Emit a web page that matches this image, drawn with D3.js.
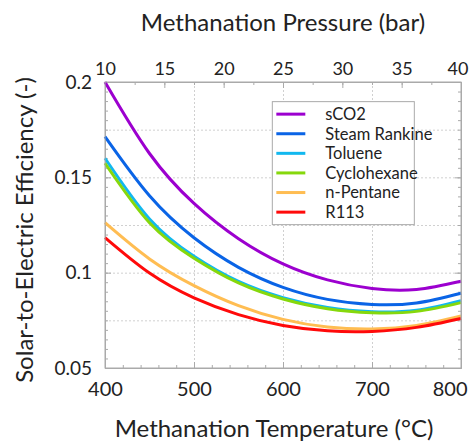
<!DOCTYPE html>
<html>
<head>
<meta charset="utf-8">
<script src="https://cdn.jsdelivr.net/npm/d3@7"></script>
<style>
body { margin: 0; background: #fff; }
svg text { font-family: Lato, "Open Sans", sans-serif; fill: #222; }
.domain { stroke: #aaa; }
.tick line { stroke: #aaa; }
.grid line { stroke: #d0d0d0; stroke-dasharray: 2,2; }
.grid .domain { display: none; }
</style>
</head>
<body>
<div class="chart"></div>
<script>
var width = 470;
var height = 441;
var margin = {top: 82, right: 9, bottom: 73, left: 105};

// temperatures (°C)
var temps = [400, 450, 500, 550, 600, 650, 700, 750, 800];
var seriesNames = ["sCO2", "Steam Rankine", "Toluene", "Cyclohexane", "n-Pentane", "R113"];
var seriesColors = ["#9c00cf", "#0a64e6", "#12b8ef", "#86d80c", "#ffbd52", "#ff0a0a"];

var sCO2 = [0.2000, 0.1625, 0.1363, 0.1178, 0.1046, 0.0962, 0.0917, 0.0912, 0.0955];
var steamRankine = [0.1713, 0.1403, 0.1183, 0.1028, 0.0923, 0.0860, 0.0833, 0.0841, 0.0892];
var toluene = [0.1600, 0.1282, 0.1086, 0.0954, 0.0869, 0.0817, 0.0795, 0.0803, 0.0853];
var cyclohexane = [0.1574, 0.1262, 0.1076, 0.0946, 0.0862, 0.0811, 0.0790, 0.0797, 0.0843];
var nPentane = [0.1262, 0.1072, 0.0932, 0.0827, 0.0755, 0.0715, 0.0705, 0.0723, 0.0773];
var r113 = [0.1184, 0.0998, 0.0868, 0.0780, 0.0723, 0.0695, 0.0692, 0.0713, 0.0760];

var tempTicks = [400, 500, 600, 700, 800];
var pressureTicks = [10, 15, 20, 25, 30, 35, 40];
var effTicks = [0.05, 0.1, 0.15, 0.2];

var allSeries = [sCO2, steamRankine, toluene, cyclohexane, nPentane, r113];

var svg = d3.select(".chart").append("svg")
    .attr("width", width).attr("height", height);

var w = width - margin.left - margin.right;
var h = height - margin.top - margin.bottom;

var x = d3.scaleLinear().domain([400, 800]).range([0, w]);
var xp = d3.scaleLinear().domain([10, 40]).range([0, w]);
var y = d3.scaleLinear().domain([0.05, 0.2]).range([h, 0]);

var g = svg.append("g").attr("transform", "translate(" + margin.left + "," + margin.top + ")");

// grid lines
g.append("g").attr("class", "grid")
    .attr("transform", "translate(0," + h + ")")
    .call(d3.axisBottom(x).tickValues([500, 600, 700]).tickSize(-h).tickFormat(""));
g.append("g").attr("class", "grid")
    .call(d3.axisLeft(y).tickValues([0.075, 0.1, 0.125, 0.15, 0.175]).tickSize(-w).tickFormat(""));

// minor ticks
g.append("g").attr("transform", "translate(0," + h + ")")
    .call(d3.axisBottom(x).tickValues(d3.range(400, 801, 20)).tickSizeInner(-3).tickSizeOuter(0).tickFormat(""));
g.append("g")
    .call(d3.axisLeft(y).tickValues(d3.range(0.05, 0.2001, 0.005)).tickSizeInner(-3).tickSizeOuter(0).tickFormat(""));
g.append("g").attr("transform", "translate(" + w + ",0)")
    .call(d3.axisRight(y).tickValues(d3.range(0.05, 0.2001, 0.005)).tickSizeInner(-3).tickSizeOuter(0).tickFormat(""));
g.append("g")
    .call(d3.axisTop(xp).tickValues(d3.range(10, 40.01, 2.5)).tickSizeInner(-3).tickSizeOuter(0).tickFormat(""));

// major axes
var xAxis = g.append("g").attr("transform", "translate(0," + h + ")")
    .call(d3.axisBottom(x).tickValues(tempTicks).tickSizeInner(-6).tickSizeOuter(0).tickPadding(14));
xAxis.selectAll("text").style("font-size", "20px");
// keep the last label inside the picture
xAxis.selectAll(".tick").filter(function(d){ return d === 800; }).select("text")
    .attr("text-anchor", "end").attr("x", 6);

var yAxis = g.append("g")
    .call(d3.axisLeft(y).tickValues(effTicks).tickSizeInner(-6).tickSizeOuter(0).tickPadding(13)
        .tickFormat(function(d){ return String(+d.toFixed(2)); }));
yAxis.selectAll("text").style("font-size", "19px");

g.append("g").attr("transform", "translate(" + w + ",0)")
    .call(d3.axisRight(y).tickValues(effTicks).tickSizeInner(-6).tickSizeOuter(0).tickFormat(""));

var topAxis = g.append("g")
    .call(d3.axisTop(xp).tickValues(pressureTicks).tickSizeInner(-6).tickSizeOuter(0).tickPadding(7));
topAxis.selectAll("text").style("font-size", "18px");
topAxis.selectAll(".tick").filter(function(d){ return d === 40; }).select("text")
    .attr("text-anchor", "end").attr("x", 7);

// lines
var line = d3.line()
    .x(function(d, i){ return x(temps[i]); })
    .y(function(d){ return y(d); })
    .curve(d3.curveNatural);

g.selectAll(".series")
    .data(allSeries)
    .enter().append("path")
    .attr("class", "series")
    .attr("fill", "none")
    .attr("stroke-width", 3)
    .attr("stroke", function(d, i){ return seriesColors[i]; })
    .attr("d", line);

// frame
g.append("rect").attr("width", w).attr("height", h)
    .attr("fill", "none").attr("stroke", "#aaa");

// legend
var legend = g.append("g").attr("transform", "translate(" + x(588) + "," + y(0.1897) + ")");
legend.append("rect").attr("width", 142).attr("height", 123)
    .attr("fill", "#fff").attr("stroke", "#aaa");
var item = legend.selectAll(".item").data(seriesNames).enter().append("g")
    .attr("transform", function(d, i){ return "translate(0," + (12.5 + i * 19.6) + ")"; });
item.append("line").attr("x1", 4).attr("x2", 33)
    .attr("stroke-width", 3)
    .attr("stroke", function(d, i){ return seriesColors[i]; });
item.append("text").attr("x", 53).attr("dy", "0.35em")
    .style("font-size", "16.5px")
    .text(function(d){ return d; });

// titles
svg.append("text").attr("x", 283).attr("y", 31)
    .attr("text-anchor", "middle").style("font-size", "24px")
    .text("Methanation Pressure (bar)");
svg.append("text").attr("x", 274).attr("y", 437)
    .attr("text-anchor", "middle").style("font-size", "24px")
    .text("Methanation Temperature (°C)");
svg.append("text").attr("transform", "translate(33,230) rotate(-90)")
    .attr("text-anchor", "middle").style("font-size", "24px")
    .text("Solar-to-Electric Efficiency (-)");
</script>
</body>
</html>
